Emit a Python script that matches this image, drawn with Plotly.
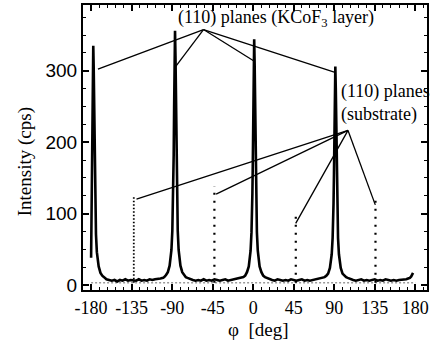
import plotly.graph_objects as go

# ---------------- data ----------------
# KCoF3 layer phi-scan (main, solid)
peak_centers = [-86.8, 1.1, 91.2]          # deg
peak_offsets = [-12, -10, -8, -6, -5, -4, -3, -2.5, -2, -1.5, -1, -0.5, 0,
                0.5, 1, 1.5, 2, 2.5, 3, 4, 5, 6, 8, 10, 12]
peak_profiles = [
    [11, 14, 18, 27, 35, 49, 76, 99, 132, 181, 248, 321, 356, 321, 248, 181, 132, 99, 76, 49, 35, 27, 18, 14, 11],
    [11, 13, 18, 26, 34, 48, 74, 95, 128, 175, 240, 310, 344, 310, 240, 175, 128, 95, 74, 48, 34, 26, 18, 13, 11],
    [11, 13, 16, 24, 31, 43, 66, 85, 114, 156, 214, 276, 306, 276, 214, 156, 114, 85, 66, 43, 31, 24, 16, 13, 11],
]
first_peak_phi = [-180.0, -179.5, -179.0, -178.5, -177.6, -177.1, -176.6, -176.1, -175.6, -175.1,
                  -174.6, -173.6, -172.6, -171.6, -169.6, -167.6, -165.6]
first_peak_cps = [38, 90, 170, 270, 335, 302, 234, 170, 124, 92, 71, 46, 33, 26, 17, 13, 11]

base1_phi = [-163, -160, -157, -154, -151, -148, -145, -142, -139, -136, -133, -130, -127, -124,
             -121, -118, -115, -112, -109, -106, -103, -100]
base1_cps = [8, 7, 6, 7, 5, 7, 6, 8, 6, 7, 7, 6, 8, 6, 7, 6, 8, 7, 8, 8, 9, 10]
base2_phi = [-73, -70, -67, -64, -61, -58, -55, -52, -49, -46, -43, -40, -37, -34, -31, -28,
             -25, -22, -19, -16, -13]
base2_cps = [10, 8, 7, 6, 7, 6, 8, 6, 7, 6, 8, 7, 6, 7, 8, 6, 7, 7, 8, 9, 10]
base3_phi = [15, 18, 21, 24, 27, 30, 33, 36, 39, 42, 45, 48, 51, 54, 57, 60, 63, 66, 69, 72, 75, 78]
base3_cps = [10, 8, 7, 6, 8, 7, 6, 7, 6, 8, 7, 6, 7, 8, 6, 7, 6, 7, 8, 8, 9, 10]
base4_phi = [105, 108, 111, 114, 117, 120, 123, 126, 129, 132, 135, 138, 141, 144, 147, 150,
             153, 156, 159, 162, 165, 168, 170, 172, 174, 175.5, 176.5, 177.5]
base4_cps = [10, 8, 7, 6, 7, 8, 6, 7, 6, 7, 8, 6, 7, 6, 8, 7, 6, 7, 6, 7, 7, 8, 8, 9, 10, 12, 14, 17]

# substrate phi-scan (dotted)
sub_phi = [-132.6, -43.1, 47.3, 135.8]
sub_cps = [123, 138, 97, 125]
sub_base = 3

# tick labels
x_ticks = [-180, -135, -90, -45, 0, 45, 90, 135, 180]
x_ticktext = ["-180", "-135", "-90", "-45", "0", "45", "90", "135", "180"]
y_ticks = [0, 100, 200, 300]

# annotation pointer geometry (data units)
layer_hub = (-55.2, 357.6)
layer_ends = [(-172.4, 302.2), (-86.2, 305.7), (1.7, 312.8), (91.7, 297.3)]
sub_hub = (105.3, 216.4)
sub_ends = [(-129.6, 120.2), (-41.2, 127.2), (47.2, 86.3), (135.6, 112.2)]

# ---------------- build main series ----------------
main_phi = list(first_peak_phi) + list(base1_phi)
main_cps = list(first_peak_cps) + list(base1_cps)
rest = [(base2_phi, base2_cps), (base3_phi, base3_cps), (base4_phi, base4_cps)]
for c, prof, (bp, bc) in zip(peak_centers, peak_profiles, rest):
    main_phi += [round(c + o, 2) for o in peak_offsets]
    main_cps += prof
    main_phi += bp
    main_cps += bc

SERIF = "Liberation Serif, Times New Roman, serif"
SANS = "Liberation Sans, Arial, sans-serif"

fig = go.Figure()

# substrate baseline (grey dotted)
fig.add_trace(go.Scatter(x=[-180, 180], y=[sub_base, sub_base], mode="lines",
                         line=dict(color="#9a9a9a", width=1.5, dash="2px,2px"),
                         hoverinfo="skip", showlegend=False))
# substrate peaks
dashes = ["1.5px,2px", "2px,6px", "2px,6px", "2px,6px"]
widths = [1.8, 2.2, 2.2, 2.2]
for p, h, d, w in zip(sub_phi, sub_cps, dashes, widths):
    fig.add_trace(go.Scatter(x=[p, p], y=[sub_base, h], mode="lines",
                             line=dict(color="black", width=w, dash=d),
                             hoverinfo="skip", showlegend=False))

# main layer scan
fig.add_trace(go.Scatter(x=main_phi, y=main_cps, mode="lines",
                         line=dict(color="black", width=2.6),
                         showlegend=False))

shapes = []
for (ex, ey) in layer_ends:
    shapes.append(dict(type="line", xref="x", yref="y", x0=layer_hub[0], y0=layer_hub[1],
                       x1=ex, y1=ey, line=dict(color="black", width=1.3)))
for (ex, ey) in sub_ends:
    shapes.append(dict(type="line", xref="x", yref="y", x0=sub_hub[0], y0=sub_hub[1],
                       x1=ex, y1=ey, line=dict(color="black", width=1.3)))

annotations = [
    dict(x=25.4, y=372.5, xref="x", yref="y", text="(110) planes (KCoF<sub>3</sub> layer)",
         showarrow=False, xanchor="center", yanchor="middle",
         font=dict(family=SERIF, size=18, color="black")),
    dict(x=95, y=270.7, xref="x", yref="y", text="(110) planes",
         showarrow=False, xanchor="left", yanchor="middle",
         font=dict(family=SERIF, size=18, color="black")),
    dict(x=95, y=238.4, xref="x", yref="y", text="(substrate)",
         showarrow=False, xanchor="left", yanchor="middle",
         font=dict(family=SERIF, size=18, color="black")),
    dict(x=-0.168, y=0.449, xref="paper", yref="paper", text="Intensity (cps)",
         textangle=-90, showarrow=False, xanchor="center", yanchor="middle",
         font=dict(family=SERIF, size=19, color="black")),
    dict(x=0.509, y=-0.137, xref="paper", yref="paper", text="\u03c6\u00a0\u00a0[deg]",
         showarrow=False, xanchor="center", yanchor="middle",
         font=dict(family=SERIF, size=19, color="black")),
]

fig.update_layout(
    width=432, height=345,
    margin=dict(l=83, r=3, t=5, b=55),
    paper_bgcolor="white", plot_bgcolor="white",
    shapes=shapes, annotations=annotations,
    xaxis=dict(range=[-189, 193], tickvals=x_ticks, ticktext=x_ticktext,
               ticks="inside", ticklen=6, tickwidth=1.5, tickcolor="black",
               minor=dict(dtick=9, tick0=0, ticks="inside", ticklen=3, tickwidth=1, tickcolor="black"),
               showline=True, linecolor="black", linewidth=2, mirror="ticks",
               showgrid=False, zeroline=False,
               tickfont=dict(family=SERIF, size=18, color="black")),
    yaxis=dict(range=[-7, 392], tickvals=y_ticks,
               ticks="inside", ticklen=6, tickwidth=1.5, tickcolor="black",
               minor=dict(dtick=25, tick0=0, ticks="inside", ticklen=3, tickwidth=1, tickcolor="black"),
               showline=True, linecolor="black", linewidth=2, mirror="ticks",
               showgrid=False, zeroline=False,
               tickfont=dict(family=SANS, size=19, color="black")),
)

fig.write_html("out.html")
